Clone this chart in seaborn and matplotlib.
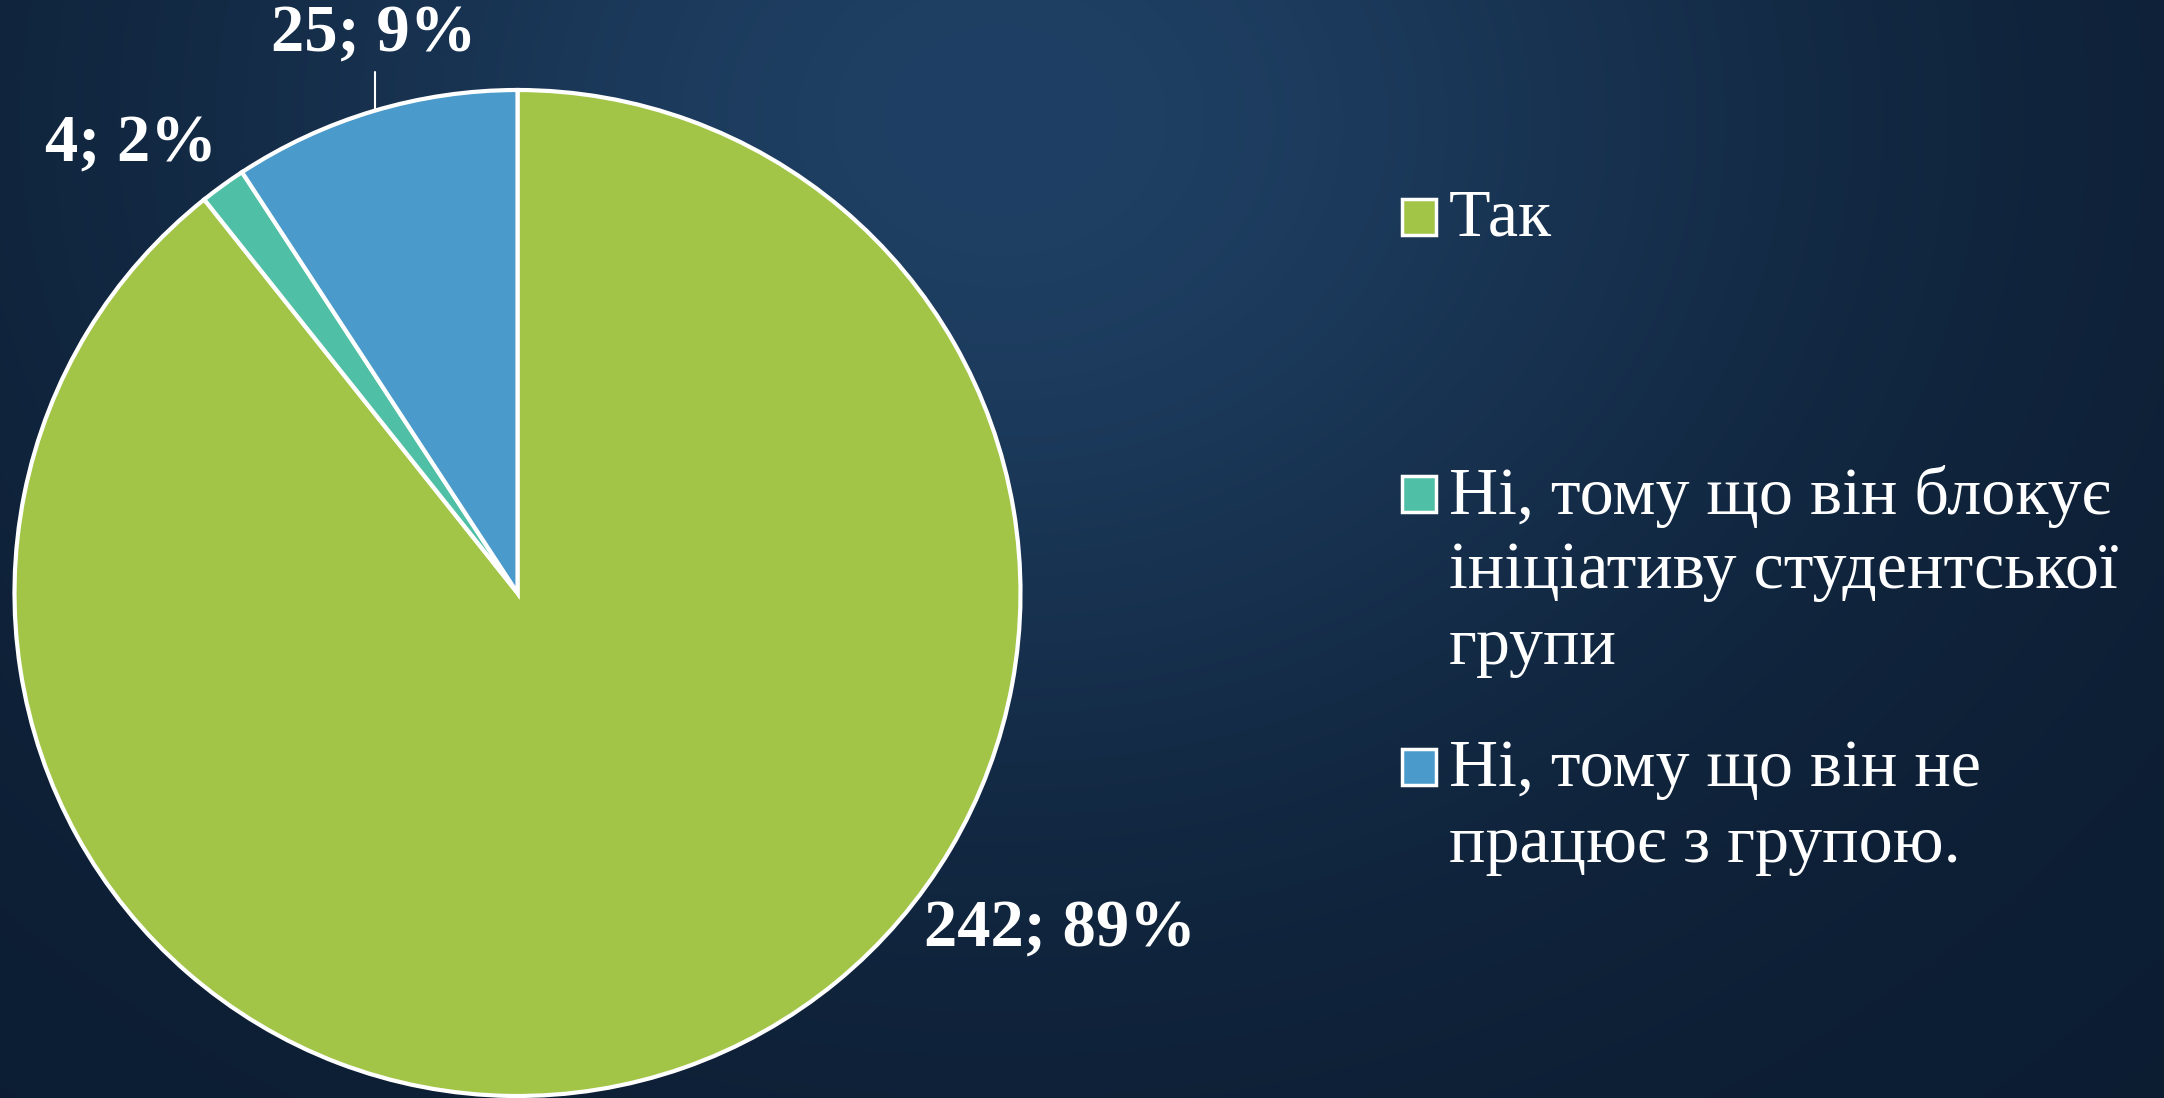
import numpy as np
import matplotlib
matplotlib.use("Agg")
import matplotlib.pyplot as plt
import seaborn as sns
from matplotlib.patches import Rectangle

categories = ["Так", "Ні, тому що він блокує\nініціативу студентської\nгрупи", "Ні, тому що він не\nпрацює з групою."]
counts = [242, 4, 25]
percents = ["89%", "2%", "9%"]
colors = ["#A2C547", "#4FBFA5", "#4A9BCB"]

sns.set_theme(style="white")
plt.rcParams["font.family"] = ["Liberation Serif", "DejaVu Serif"]

W, H = 2164, 1098
fig = plt.figure(figsize=(W / 100, H / 100), dpi=100)

# background gradient
bg = fig.add_axes([0, 0, 1, 1], zorder=-10)
yy, xx = np.mgrid[0:H, 0:W]
d = np.sqrt(((xx - 1000) / 1100.0) ** 2 + ((yy - 120) / 900.0) ** 2)
t = np.clip(np.exp(-d ** 2 * 1.8), 0, 1)[..., None]
dark = np.array([12, 29, 50]) / 255.0
light = np.array([31, 64, 100]) / 255.0
img = dark * (1 - t) + light * t
bg.imshow(img, aspect="auto", extent=[0, W, H, 0])
bg.set_axis_off()

cx, cy, R = 517.5, 593.0, 503.0
ax = fig.add_axes([(cx - R) / W, (H - cy - R) / H, 2 * R / W, 2 * R / H])
pal = sns.color_palette(colors)
ax.pie(counts, colors=pal, startangle=90, counterclock=False, radius=1.0,
       wedgeprops=dict(edgecolor="white", linewidth=3))
ax.set_xlim(-1, 1)
ax.set_ylim(-1, 1)
ax.set_aspect("equal")
ax.set_axis_off()

def px2d(px, py):
    return (px - cx) / R, (cy - py) / R

label_pos = [(1060, 930), (131, 145), (374, 35)]
for (px, py), n, p in zip(label_pos, counts, percents):
    x, y = px2d(px, py)
    ax.text(x, y, f"{n}; {p}", ha="center", va="center", color="white",
            fontsize=48, fontweight="bold", family=["Liberation Serif", "DejaVu Serif"],
            clip_on=False)
x0, y0 = px2d(375, 72)
x1, y1 = px2d(375, 110)
ax.plot([x0, x1], [y0, y1], color="white", lw=1.5, clip_on=False)

# legend
leg_lines = [[219], [496, 572, 647], [769, 846]]
box_top = [199, 476, 749]
for cat, col, ys, bt in zip(categories, colors, leg_lines, box_top):
    fig.patches.append(Rectangle((1402 / W, 1 - (bt + 36) / H), 34 / W, 36 / H,
                                 transform=fig.transFigure, facecolor=col,
                                 edgecolor="white", linewidth=2.5))
    for line, y in zip(cat.split("\n"), ys):
        fig.text(1449 / W, 1 - y / H, line, ha="left", va="center", color="white",
                 fontsize=49)

fig.savefig("out.png", dpi=100)
